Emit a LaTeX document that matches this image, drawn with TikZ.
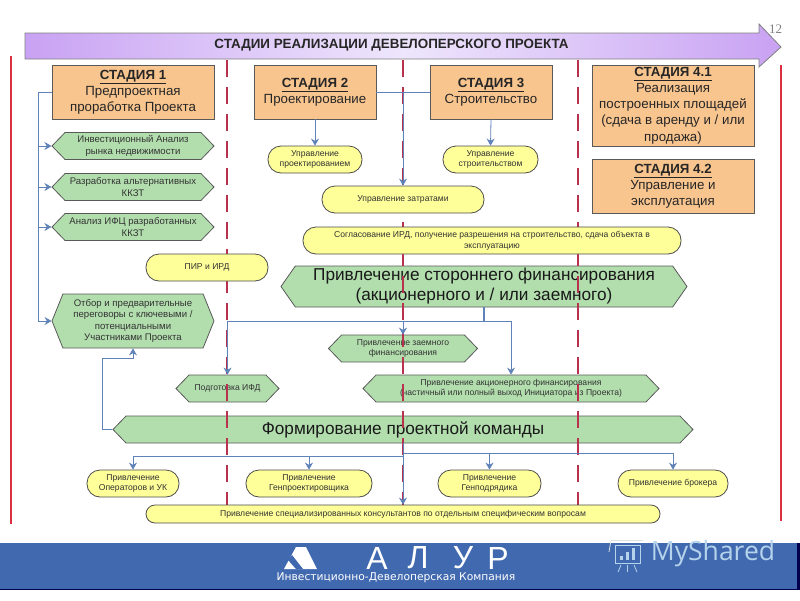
\documentclass[tikz,border=0pt]{standalone}
\usepackage{fontspec}
\setmainfont{Liberation Sans}
\newfontfamily\serifnum{Liberation Serif}
\newfontfamily\logofont{DejaVu Sans}
\newfontfamily\markfont{Open Sans}
\usepackage{tikz}
\usetikzlibrary{arrows.meta, shapes.symbols}
\definecolor{stagefill}{HTML}{F9C58F}
\definecolor{greenfill}{HTML}{B2DEAE}
\definecolor{yellowfill}{HTML}{FFFF99}
\definecolor{edgeblue}{HTML}{5F82B8}
\definecolor{redline}{HTML}{DB2F3F}
\definecolor{dashred}{HTML}{B8324E}
\definecolor{barblue}{HTML}{4169B0}
\definecolor{markblue}{HTML}{B5D3EA}
\definecolor{arrowend}{HTML}{C9A2F3}
\definecolor{arrowmid}{HTML}{EEE6FC}
\tikzstyle{stagebox} = [draw=black!65, thick, fill=stagefill, inner sep=0pt, align=center, text=black!85, font=\fontsize{13.3}{16.2}\selectfont]
\tikzstyle{hexbox} = [draw=black!65, thick, fill=greenfill, inner sep=0pt, align=center, text=black!80, shape=signal, signal to=east and west, signal pointer angle=92, minimum height=27pt, font=\fontsize{9.6}{11.4}\selectfont]
\tikzstyle{lowhex} = [hexbox, font=\fontsize{8.6}{10.5}\selectfont]
\tikzstyle{bighex} = [hexbox, font=\fontsize{17.2}{20}\selectfont, text=black!90]
\tikzstyle{yellowbox} = [draw=black!70, thick, fill=yellowfill, inner sep=0pt, align=center, text=black!80, rectangle, rounded corners=13pt, minimum height=27pt, font=\fontsize{8.6}{10.5}\selectfont]
\tikzstyle{logoletter} = [text=white, font=\fontsize{32}{32}\selectfont]
\tikzstyle{edge} = [edgeblue, thick, -{Stealth[length=7pt,width=8pt]}]
\tikzstyle{plainedge} = [edgeblue, thick]
\tikzstyle{dividerline} = [dashred, line width=1.5pt, dash pattern=on 17pt off 10pt]
\tikzstyle{borderline} = [redline, line width=2pt]
\newcommand{\stagetitle}[1]{\textbf{\underline{#1}}}

\begin{document}
\begin{tikzpicture}[x=1pt, y=-1pt]
\useasboundingbox (0,0) rectangle (800,600);

% footer bar
\fill[barblue] (0,543) rectangle (797,589);
\fill[black!70!blue] (797,543) rectangle (800,589);
\fill[black!70!blue] (0,589) rectangle (800,590);
\fill[white] (296,547) -- (306,547) -- (317,569) -- (284,569) -- cycle;
\fill[barblue] (292,555) -- (303,569) -- (296,569) -- (288,560) -- cycle;
\node[logoletter] (logoa) at (377,558) {А};
\node[logoletter] (logol) at (418,558) {Л};
\node[logoletter] (logou) at (463,558) {У};
\node[logoletter] (logor) at (498,558) {Р};
\node[text=white, font=\logofont\fontsize{10.7}{12}\selectfont] (company) at (396,578) {Инвестиционно-Девелоперская Компания};
\node[text=markblue, font=\markfont\fontsize{26.5}{27}\selectfont] (myshared) at (713,554) {MyShared};
\draw[markblue, thick] (615,545) rectangle (640,563);
\draw[black!12, thick] (611,540) -- (643,540);
\draw[black!12, thick] (611,540) -- (609,552);
\fill[markblue] (620,556) rectangle (623,560);
\fill[markblue] (626,552) rectangle (629,560);
\fill[markblue] (632,548) rectangle (635,560);
\draw[markblue, thick] (621,565) -- (618,572);
\draw[markblue, thick] (627,565) -- (627,572);
\draw[markblue, thick] (634,565) -- (637,572);
\node[text=black!50, font=\serifnum\fontsize{13}{13}\selectfont] (pagenum) at (775.5,29) {12};

% header arrow
\draw[draw=black!50, thick, left color=arrowend, right color=arrowend, middle color=arrowmid] (25,33) -- (759,33) -- (759,24) -- (781,47) -- (759,67) -- (759,59) -- (25,59) -- cycle;
\node[font=\bfseries\fontsize{13.4}{14}\selectfont, text=black!85] (title) at (391.5,45) {СТАДИИ РЕАЛИЗАЦИИ ДЕВЕЛОПЕРСКОГО ПРОЕКТА};

% hexagons
\node[hexbox, minimum width=162pt] (g1) at (133,146) {Инвестиционный Анализ\\рынка недвижимости};
\node[hexbox, minimum width=162pt] (g2) at (133,187) {Разработка альтернативных\\ККЗТ};
\node[hexbox, minimum width=162pt] (g3) at (133,227) {Анализ ИФЦ разработанных\\ККЗТ};
\node[hexbox, minimum width=162pt, minimum height=54pt, signal pointer angle=136] (g4) at (133,321) {Отбор и предварительные\\переговоры с ключевыми /\\потенциальными\\Участниками Проекта};
\node[bighex, minimum width=406pt, minimum height=41pt, signal pointer angle=110] (finance) at (484,286.5) {Привлечение стороннего финансирования\\(акционерного и / или заемного)};
\node[lowhex, minimum width=149pt] (loan) at (403,348.5) {Привлечение заемного\\финансирования};
\node[lowhex, minimum width=103pt] (ifd) at (227.5,388.5) {Подготовка ИФД};
\node[lowhex, minimum width=296pt] (equity) at (511,388.5) {Привлечение акционерного финансирования\\(частичный или полный выход Инициатора из Проекта)};
\node[bighex, minimum width=580pt] (team) at (403,429.5) {Формирование проектной команды};

% stage dividers
\coordinate (d1t) at (227,60);
\coordinate (d1b) at (227,505);
\coordinate (d2t) at (403,60);
\coordinate (d2b) at (403,505);
\coordinate (d3t) at (578,60);
\coordinate (d3b) at (578,505);
\draw[dividerline] (d1t) to (d1b);
\draw[dividerline] (d2t) to (d2b);
\draw[dividerline] (d3t) to (d3b);
\coordinate (b1t) at (11,56);
\coordinate (b1b) at (11,524);
\coordinate (b2t) at (781,65);
\coordinate (b2b) at (781,521);
\draw[borderline] (b1t) to (b1b);
\draw[borderline] (b2t) to (b2b);

% stages
\node[stagebox, minimum width=162pt, minimum height=54pt] (s1) at (133,92) {\stagetitle{СТАДИЯ 1}\\Предпроектная\\проработка Проекта};
\node[stagebox, minimum width=122pt, minimum height=54pt] (s2) at (315,92) {\stagetitle{СТАДИЯ 2}\\Проектирование};
\node[stagebox, minimum width=122pt, minimum height=54pt] (s3) at (491,92) {\stagetitle{СТАДИЯ 3}\\Строительство};
\node[stagebox, minimum width=162pt, minimum height=81pt] (s41) at (673,105.5) {\stagetitle{СТАДИЯ 4.1}\\Реализация\\построенных площадей\\(сдача в аренду и / или\\продажа)};
\node[stagebox, minimum width=162pt, minimum height=54pt] (s42) at (673,186) {\stagetitle{СТАДИЯ 4.2}\\Управление и\\эксплуатация};

% yellow boxes
\node[yellowbox, minimum width=94pt] (y1) at (315,159.5) {Управление\\проектированием};
\node[yellowbox, minimum width=95pt] (y2) at (490.5,159.5) {Управление\\строительством};
\node[yellowbox, minimum width=162pt] (y3) at (403,199.5) {Управление затратами};
\node[yellowbox, minimum width=378pt] (y4) at (492,240.5) {Согласование ИРД, получение разрешения на строительство, сдача объекта в\\эксплуатацию};
\node[yellowbox, minimum width=122pt] (y5) at (207,267.5) {ПИР и ИРД};
\node[yellowbox, minimum width=92pt] (y6) at (133,483.5) {Привлечение\\Операторов и УК};
\node[yellowbox, minimum width=126pt] (y7) at (309,483.5) {Привлечение\\Генпроектировщика};
\node[yellowbox, minimum width=103pt] (y8) at (489.5,483.5) {Привлечение\\Генподрядика};
\node[yellowbox, minimum width=110pt] (y9) at (673,483.5) {Привлечение брокера};
\node[yellowbox, minimum width=514pt, minimum height=18pt, rounded corners=9pt] (y10) at (403,514) {Привлечение специализированных консультантов по отдельным специфическим вопросам};

% connectors
\coordinate (leftbus) at (38,92);
\coordinate (midbus) at (403,92);
\coordinate (finbus) at (484,321);
\coordinate (ifdtop) at (227.5,321);
\coordinate (loantop) at (403,321);
\coordinate (equitytop) at (511,321);
\coordinate (teamleft) at (102,358);
\coordinate (lowbus) at (403,456);
\coordinate (highbus) at (403,453);
\draw[plainedge] (s1.west) to (leftbus);
\draw[edge] (leftbus) |- (g1.west);
\draw[edge] (leftbus) |- (g2.west);
\draw[edge] (leftbus) |- (g3.west);
\draw[edge] (leftbus) |- (g4.west);
\draw[edge] (s2.south) to (y1.north);
\draw[edge] (s3.south) to (y2.north);
\draw[plainedge] (s2.east) to (s3.west);
\draw[edge] (midbus) to (y3.north);
\draw[plainedge, line width=1.5pt] (finance.south) to (finbus);
\draw[plainedge] (ifdtop) to (equitytop);
\draw[edge] (ifdtop) to (ifd.north);
\draw[edge] (loantop) to (loan.north);
\draw[edge] (equitytop) to (equity.north);
\draw[edge] (team.west) -| (teamleft) -| (g4.south);
\draw[edge] (team.south) to (y10.north);
\draw[edge] (lowbus) -| (y6.north);
\draw[edge] (lowbus) -| (y7.north);
\draw[edge] (highbus) -| (y8.north);
\draw[edge] (highbus) -| (y9.north);

\end{tikzpicture}
\end{document}
